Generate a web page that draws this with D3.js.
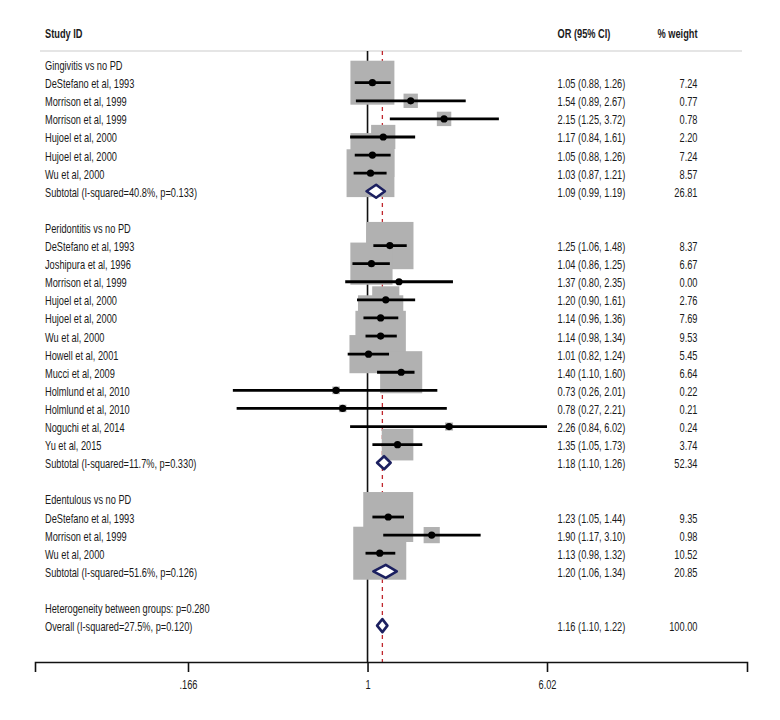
<!DOCTYPE html>
<html>
<head>
<meta charset="utf-8">
<script src="https://cdn.jsdelivr.net/npm/d3@7"></script>
<style>
  html, body { margin: 0; padding: 0; background: #fff; }
  text { font-family: "Liberation Sans", Arial, sans-serif; fill: #1a1a1a; }
</style>
</head>
<body>
<svg id="chart" width="780" height="720"></svg>
<script>
// ---- data ----
const rowLabels = [
  "Gingivitis vs no PD",
  "DeStefano et al, 1993", "Morrison et al, 1999", "Morrison et al, 1999",
  "Hujoel et al, 2000", "Hujoel et al, 2000", "Wu et al, 2000",
  "Subtotal (I-squared=40.8%, p=0.133)",
  "",
  "Peridontitis vs no PD",
  "DeStefano et al, 1993", "Joshipura et al, 1996", "Morrison et al, 1999",
  "Hujoel et al, 2000", "Hujoel et al, 2000", "Wu et al, 2000",
  "Howell et al, 2001", "Mucci et al, 2009", "Holmlund et al, 2010",
  "Holmlund et al, 2010", "Noguchi et al, 2014", "Yu et al, 2015",
  "Subtotal (I-squared=11.7%, p=0.330)",
  "",
  "Edentulous vs no PD",
  "DeStefano et al, 1993", "Morrison et al, 1999", "Wu et al, 2000",
  "Subtotal (I-squared=51.6%, p=0.126)",
  "",
  "Heterogeneity between groups: p=0.280",
  "Overall (I-squared=27.5%, p=0.120)"
];
const rowKinds = [
  "group", "study", "study", "study", "study", "study", "study", "subtotal", "blank",
  "group", "study", "study", "study", "study", "study", "study", "study", "study",
  "study", "study", "study", "study", "subtotal", "blank",
  "group", "study", "study", "study", "subtotal", "blank",
  "note", "overall"
];
const orValues = [
  null, 1.05, 1.54, 2.15, 1.17, 1.05, 1.03, 1.09, null,
  null, 1.25, 1.04, 1.37, 1.20, 1.14, 1.14, 1.01, 1.40, 0.73, 0.78, 2.26, 1.35, 1.18, null,
  null, 1.23, 1.90, 1.13, 1.20, null,
  null, 1.16
];
const ciLow = [
  null, 0.88, 0.89, 1.25, 0.84, 0.88, 0.87, 0.99, null,
  null, 1.06, 0.86, 0.80, 0.90, 0.96, 0.98, 0.82, 1.10, 0.26, 0.27, 0.84, 1.05, 1.10, null,
  null, 1.05, 1.17, 0.98, 1.06, null,
  null, 1.10
];
const ciHigh = [
  null, 1.26, 2.67, 3.72, 1.61, 1.26, 1.21, 1.19, null,
  null, 1.48, 1.25, 2.35, 1.61, 1.36, 1.34, 1.24, 1.60, 2.01, 2.21, 6.02, 1.73, 1.26, null,
  null, 1.44, 3.10, 1.32, 1.34, null,
  null, 1.22
];
const weights = [
  null, 7.24, 0.77, 0.78, 2.20, 7.24, 8.57, 26.81, null,
  null, 8.37, 6.67, 0.00, 2.76, 7.69, 9.53, 5.45, 6.64, 0.22, 0.21, 0.24, 3.74, 52.34, null,
  null, 9.35, 0.98, 10.52, 20.85, null,
  null, 100.00
];
const tickValues = [0.166, 1, 6.02];
const tickLabels = [".166", "1", "6.02"];
const headers = ["Study ID", "OR (95% CI)", "% weight"];

// ---- layout ----
const svg = d3.select("#chart");
const rows = rowLabels.map((label, i) => ({
  i, label, kind: rowKinds[i], or: orValues[i], lo: ciLow[i], hi: ciHigh[i], w: weights[i]
}));

const x = d3.scaleLog().domain([0.166, 6.02]).range([188, 547]);
const xAxisScale = x.copy().domain([x.invert(35), x.invert(747)]).range([35, 747]);
const y = d3.scaleLinear().domain([0, rows.length - 1]).range([64.6, 625.6]);
const boxSide = d3.scaleSqrt().domain([0, 10.52]).range([0, 53]);
const overall = rows.find(r => r.kind === "overall");
const fmt = d3.format(".2f");

const plotTop = 51, axisY = 662;
const labelX = 45, orX = 557.5, wX = 697.5;
const FS = 12;

// condensing factor: fit the sans face to the condensed widths seen in the chart
const probe = svg.append("g").attr("font-size", FS);
const samples = [[rowLabels[7], 157], [rowLabels[1], 86], [`${fmt(orValues[1])} (${fmt(ciLow[1])}, ${fmt(ciHigh[1])})`, 66.5]];
let measured = 0, target = 0;
samples.forEach(([s, t]) => {
  const n = probe.append("text").text(s);
  measured += n.node().getComputedTextLength();
  target += t;
});
probe.remove();
const SX = target / measured;
const place = (px, py) => `translate(${px},${py}) scale(${SX},1)`;

// header
const head = svg.append("g").attr("font-size", FS);
head.append("text").attr("transform", place(labelX, 38)).style("font-weight", "bold").text(headers[0]);
head.append("text").attr("transform", place(orX, 38)).style("font-weight", "bold").text(headers[1]);
head.append("text").attr("transform", place(wX, 38)).attr("text-anchor", "end").style("font-weight", "bold").text(headers[2]);
svg.append("line").attr("x1", 40).attr("x2", 742).attr("y1", plotTop).attr("y2", plotTop)
  .attr("stroke", "#cccccc").attr("stroke-width", 1.2);

// null line and overall line
svg.append("line").attr("x1", x(1)).attr("x2", x(1)).attr("y1", plotTop).attr("y2", axisY)
  .attr("stroke", "#111").attr("stroke-width", 1.6);
svg.append("line").attr("x1", x(overall.or)).attr("x2", x(overall.or)).attr("y1", plotTop).attr("y2", axisY)
  .attr("stroke", "#c0272d").attr("stroke-width", 1.3).attr("stroke-dasharray", "4,4");

const studies = rows.filter(r => r.kind === "study");
const pooled = rows.filter(r => r.kind === "subtotal" || r.kind === "overall");

// boxes
svg.append("g").selectAll("rect").data(studies.filter(d => d.w > 0)).join("rect")
  .attr("x", d => x(d.or) - boxSide(d.w) / 2)
  .attr("y", d => y(d.i) - boxSide(d.w) / 2)
  .attr("width", d => boxSide(d.w))
  .attr("height", d => boxSide(d.w))
  .attr("fill", "#b1b1b1");

// CI lines
svg.append("g").selectAll("line").data(studies).join("line")
  .attr("x1", d => x(d.lo)).attr("x2", d => x(d.hi))
  .attr("y1", d => y(d.i)).attr("y2", d => y(d.i))
  .attr("stroke", "#000").attr("stroke-width", 2.8);

// point estimates
svg.append("g").selectAll("circle").data(studies).join("circle")
  .attr("cx", d => x(d.or)).attr("cy", d => y(d.i)).attr("r", 3.6)
  .attr("fill", "#000");

// diamonds
svg.append("g").selectAll("path").data(pooled).join("path")
  .attr("d", d => {
    const cy = y(d.i), h = 6.5;
    return `M${x(d.lo)},${cy} L${x(d.or)},${cy - h} L${x(d.hi)},${cy} L${x(d.or)},${cy + h} Z`;
  })
  .attr("fill", "#fff").attr("stroke", "#1c2060").attr("stroke-width", 2.6)
  .attr("stroke-linejoin", "round");

// texts
const txt = svg.append("g").attr("font-size", FS);
txt.selectAll("text.lab").data(rows.filter(r => r.label)).join("text")
  .attr("class", "lab").attr("transform", d => place(labelX, y(d.i) + 5.5)).text(d => d.label);
const valued = rows.filter(r => r.or != null);
txt.selectAll("text.or").data(valued).join("text")
  .attr("class", "or").attr("transform", d => place(orX, y(d.i) + 5.5))
  .text(d => `${fmt(d.or)} (${fmt(d.lo)}, ${fmt(d.hi)})`);
txt.selectAll("text.w").data(valued).join("text")
  .attr("class", "w").attr("transform", d => place(wX, y(d.i) + 5.5)).attr("text-anchor", "end")
  .text(d => fmt(d.w));

// axis
const axis = d3.axisBottom(xAxisScale).tickValues(tickValues)
  .tickFormat((d, i) => tickLabels[i]).tickSizeOuter(0).tickSize(10).tickPadding(8);
const ag = svg.append("g").attr("transform", `translate(0,${axisY})`).call(axis);
ag.select(".domain").attr("stroke", "#111").attr("stroke-width", 1.6);
ag.selectAll(".tick line").attr("stroke", "#111").attr("stroke-width", 1.6);
ag.selectAll(".tick text").attr("font-size", FS).attr("font-family", null).attr("fill", "#1a1a1a")
  .attr("transform", `scale(${SX},1)`);
</script>
</body>
</html>
